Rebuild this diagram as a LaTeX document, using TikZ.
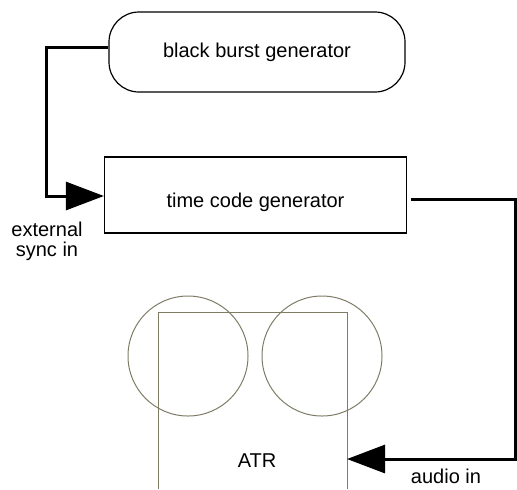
\documentclass[tikz,border=0pt]{standalone}
\usepackage{fontspec}
\setmainfont{Liberation Sans}
\usetikzlibrary{arrows.meta}
\begin{document}
\begin{tikzpicture}[x=0.5pt, y=-0.5pt,
    genbox/.style={draw, line width=0.6pt, minimum width=148pt, minimum height=38pt},
    feed/.style={line width=1.5pt, -{Triangle[length=19pt, width=14pt]}},
    deck/.style={draw=black!45!olive!35!gray, line width=0.5pt}]
    \useasboundingbox (0,0) rectangle (517,489);
    \node[genbox, rounded corners=15pt, minimum height=40pt] (bbg) at (257,52) {black burst generator};
    \node[genbox, minimum width=151pt] (tcg) at (255.5,195) {};
    \node (tcgtext) at (255.5,202) {time code generator};
    % tape recorder
    \draw[deck] (158,489) -- (158,312) -- (347,312) -- (347,489);
    \draw[deck] (188,356) circle[radius=30pt];
    \draw[deck] (322,356) circle[radius=30pt];
    \node (atr) at (257,461) {ATR};
    \coordinate (atrin) at (347,459);
    \draw[feed] ([yshift=2.5pt]bbg.west) -| (46,196) -- (tcg.west |- 0,196);
    \draw[feed] ([xshift=2pt,yshift=-2pt]tcg.east) -| (515,459) -- (atrin);
    \node[align=center, inner sep=0pt] (sync) at (47,241) {external\\[-2pt]sync in};
    \node (audio) at (446,476) {audio in};
\end{tikzpicture}
\end{document}
